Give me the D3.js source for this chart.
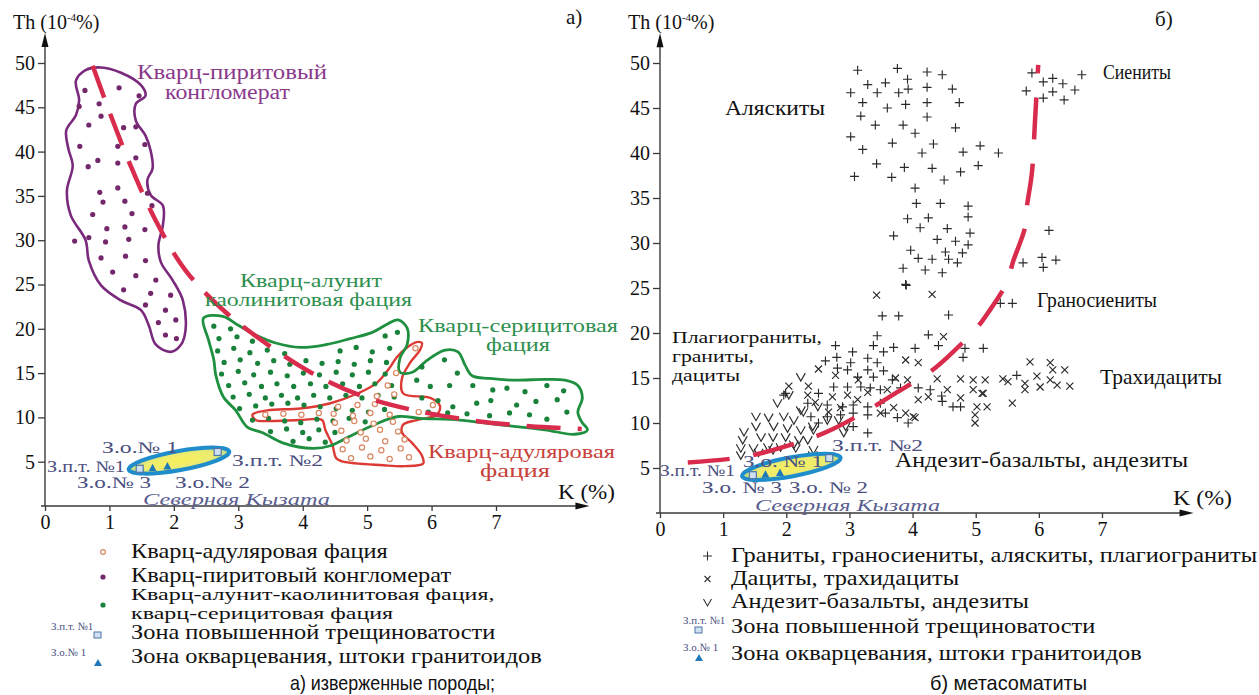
<!DOCTYPE html>
<html><head><meta charset="utf-8">
<script src="https://cdn.jsdelivr.net/npm/d3@7"></script>
<style>
body{margin:0;background:#fff}
svg{display:block}
</style>
</head><body>
<svg id="c" width="1259" height="695" font-family="'Liberation Serif','DejaVu Serif','Times New Roman',serif"></svg>
<script>
// ---------- DATA ----------
const kTicks = [0,1,2,3,4,5,6,7];
const thTicks = [5,10,15,20,25,30,35,40,45,50];

// Panel a) region outlines [K, Th]
const pyriteOutline = [[0.48,48.0],[0.63,49.2],[0.87,49.5],[1.18,48.9],[1.49,47.5],[1.56,46.3],[1.41,45.4],[1.41,43.5],[1.56,41.8],[1.64,40.1],[1.67,38.1],[1.59,36.8],[1.64,35.1],[1.83,33.9],[1.83,31.7],[1.76,29.4],[1.80,27.5],[1.98,25.5],[2.14,23.2],[2.18,19.8],[2.11,18.2],[1.95,17.4],[1.72,18.2],[1.61,20.4],[1.49,22.1],[1.18,23.2],[0.87,24.9],[0.68,27.7],[0.63,30.0],[0.40,32.8],[0.34,35.6],[0.43,38.4],[0.36,40.4],[0.33,42.4],[0.48,44.1],[0.53,45.8]];
const alunitOutline = [[2.46,21.2],[2.76,21.4],[3.00,20.4],[3.27,19.3],[3.58,18.4],[3.96,17.9],[4.35,18.2],[4.74,18.9],[5.08,19.6],[5.33,20.6],[5.48,21.0],[5.62,20.1],[5.62,18.2],[5.51,16.7],[5.51,15.1],[5.70,15.1],[5.94,16.5],[6.21,17.6],[6.41,17.4],[6.52,15.9],[6.63,14.7],[6.90,14.4],[7.29,14.2],[7.76,14.3],[8.07,14.2],[8.27,13.6],[8.34,12.2],[8.27,10.6],[8.33,9.5],[8.42,8.6],[8.22,8.1],[7.76,8.6],[7.14,9.1],[6.44,9.7],[5.82,9.9],[5.48,10.1],[5.12,9.2],[4.74,7.9],[4.43,6.8],[4.16,6.5],[3.70,7.1],[3.37,8.3],[3.14,8.9],[2.96,10.8],[2.77,12.3],[2.65,14.8],[2.62,16.5],[2.54,18.7]];
const adularOutline = [[3.22,10.3],[3.45,10.8],[3.96,11.0],[4.43,11.6],[4.85,12.7],[5.15,13.9],[5.36,15.7],[5.46,16.8],[5.62,17.9],[5.77,18.5],[5.85,18.4],[5.82,17.6],[5.67,16.2],[5.54,14.4],[5.56,12.7],[5.98,12.2],[6.13,11.3],[6.08,10.3],[5.77,9.7],[5.56,9.2],[5.54,8.3],[5.70,7.1],[5.85,5.7],[5.87,4.8],[5.59,4.5],[5.25,4.6],[4.63,5.0],[4.52,5.4],[4.46,6.9],[4.35,8.6],[4.30,9.7],[3.96,9.7],[3.50,9.6],[3.27,9.7]];

// Panel a) sample points [K, Th]
const pyriteDots = [[0.62,46.9],[1.15,47.2],[1.46,46.3],[0.53,45.1],[0.84,45.4],[0.87,44.0],[0.68,43.0],[1.22,42.7],[1.41,42.8],[0.54,40.6],[1.13,40.6],[1.55,40.8],[0.67,38.3],[0.82,39.0],[1.13,38.7],[1.41,39.3],[0.85,35.4],[1.13,35.9],[1.59,35.3],[0.90,34.3],[1.24,34.4],[1.66,33.9],[0.74,32.9],[1.35,33.0],[0.96,31.3],[1.24,31.5],[1.55,31.2],[0.46,29.9],[0.68,30.3],[0.94,29.8],[1.30,30.1],[0.87,28.0],[1.25,28.2],[1.56,27.7],[1.05,26.4],[1.41,26.0],[1.72,25.5],[1.22,24.4],[1.64,24.0],[1.95,23.8],[1.56,22.7],[1.87,22.1],[1.76,20.7],[2.03,21.0],[1.87,19.3],[2.04,18.9]];
const alunitDots = [[2.62,20.3],[2.88,20.0],[2.70,18.9],[2.98,19.1],[3.22,18.6],[5.28,19.2],[5.47,19.6],[2.68,17.5],[2.93,17.8],[3.18,17.3],[3.45,17.6],[3.72,17.2],[4.58,17.5],[4.83,17.9],[5.08,17.4],[5.35,17.8],[2.78,16.2],[3.03,16.5],[3.30,16.1],[3.55,16.4],[3.80,16.0],[4.05,16.4],[4.30,16.1],[4.55,16.3],[4.80,16.0],[5.05,16.4],[5.30,16.2],[2.74,14.9],[3.00,15.2],[3.24,14.8],[3.50,15.1],[3.76,14.7],[4.01,15.0],[4.26,14.8],[4.52,15.1],[4.77,14.8],[5.02,15.1],[5.28,14.9],[2.85,13.6],[3.10,13.9],[3.36,13.5],[3.60,13.8],[3.86,13.5],[4.12,13.8],[4.36,13.5],[4.62,13.8],[4.88,13.5],[5.12,13.8],[5.38,13.6],[2.92,12.3],[3.17,12.6],[3.42,12.2],[3.67,12.5],[3.92,12.2],[4.17,12.5],[4.42,12.2],[4.67,12.5],[4.92,12.2],[5.17,12.5],[5.42,12.3],[3.02,11.0],[3.27,11.3],[3.52,11.5],[3.77,11.6],[4.02,11.4],[4.27,11.2],[4.52,11.0],[4.77,10.8],[5.02,10.6],[5.27,10.9],[3.22,9.7],[3.47,9.9],[3.72,9.6],[3.97,9.4],[4.22,9.8],[4.47,9.6],[4.72,9.9],[4.97,9.5],[3.50,8.4],[3.75,8.7],[4.00,8.3],[4.25,8.6],[4.50,8.3],[3.85,7.3],[4.10,7.6],[4.35,7.2],
  [5.85,15.7],[6.20,16.5],[6.40,15.0],[5.77,14.2],[5.98,13.5],[6.28,13.6],[6.64,13.6],[6.95,13.1],[7.17,13.3],[7.45,12.9],[7.79,13.6],[8.05,13.0],[5.85,12.2],[6.10,11.9],[6.33,11.2],[6.70,11.6],[6.92,11.9],[7.32,11.4],[7.62,11.8],[7.95,12.0],[7.21,10.5],[7.52,10.3],[7.79,9.8],[8.10,10.6],[6.55,10.4],[6.90,10.2],[5.95,10.6],[6.25,10.5]];
const adularDots = [[3.42,10.3],[3.70,10.4],[3.98,10.3],[4.25,10.5],[4.55,11.2],[4.85,11.4],[5.12,11.5],[4.48,10.4],[4.78,10.2],[5.05,10.5],[5.35,10.3],[5.80,10.6],[6.02,11.4],[4.50,9.4],[4.80,9.6],[5.10,9.3],[5.40,9.5],[4.60,8.5],[4.90,8.3],[5.20,8.6],[5.48,8.4],[4.68,7.4],[4.98,7.6],[5.28,7.3],[5.58,7.5],[4.62,6.4],[4.92,6.6],[5.22,6.3],[5.52,6.5],[4.75,5.4],[5.05,5.6],[5.35,5.3],[5.65,5.5],[5.15,12.4],[5.42,12.6],[5.32,13.6],[5.45,15.0],[5.75,17.8]];

// Boundary dashed curves [K, Th]
const boundaryA = [[0.74,49.7],[1.02,44.1],[1.33,38.4],[1.72,32.2],[2.18,26.6],[2.80,21.9],[3.42,18.4],[4.12,15.1],[4.89,12.5],[5.67,10.9],[6.59,9.7],[7.52,9.0],[8.33,8.7]];
const boundaryB = [[0.44,5.6],[1.20,6.1],[1.63,6.7],[2.35,8.2],[2.73,9.3],[3.36,11.7],[3.68,13.1],[4.28,15.7],[4.55,17.3],[5.02,20.6],[5.20,22.3],[5.50,25.7],[5.59,27.9],[5.78,31.7],[5.81,34.0],[5.89,37.8],[5.94,43.7],[5.99,49.8]];

// Zones (both panels) [K, Th]
const zoneEnds = [[1.30,4.1],[2.86,6.15]];
const fractureZones = [[1.47,4.2],[2.68,6.1]];
const silicaZones = [[1.67,4.25],[1.90,4.45]];

// Panel b) points [K, Th]
const granitePts = [[3.13,49.2],[3.76,49.4],[4.23,49.0],[4.47,48.7],[3.92,48.2],[3.29,47.6],[3.57,47.8],[3.02,46.7],[3.44,46.7],[3.78,46.7],[3.93,47.1],[4.23,47.3],[4.63,47.1],[3.21,45.6],[3.60,45.0],[3.89,45.4],[4.23,45.6],[4.74,45.6],[3.18,44.1],[3.41,43.1],[3.85,43.1],[4.23,44.0],[4.04,42.2],[4.68,42.8],[3.02,41.8],[3.21,40.4],[3.68,41.1],[4.33,41.0],[4.15,40.0],[4.80,40.1],[5.07,40.8],[5.36,40.0],[3.43,38.8],[3.87,38.4],[4.31,38.3],[4.76,37.9],[5.04,38.6],[3.08,37.4],[3.67,37.3],[4.50,37.0],[4.04,36.1],[4.06,34.4],[4.44,34.4],[4.88,34.1],[4.88,32.9],[3.92,32.7],[4.25,32.8],[4.12,31.7],[4.55,31.6],[4.91,31.1],[3.70,30.8],[4.39,30.4],[4.68,30.2],[3.97,29.2],[4.52,29.0],[4.79,28.9],[4.88,29.8],[4.09,28.3],[4.31,28.2],[4.57,28.2],[4.71,27.8],[3.85,27.2],[4.20,27.0],[4.47,26.7],[3.89,25.4],[3.52,21.9],[3.78,21.9],[4.57,22.0],[3.44,19.7],[4.25,19.8],
  [5.89,48.9],[6.07,47.9],[6.22,48.3],[6.38,47.7],[6.57,47.0],[6.68,48.7],[5.80,46.9],[6.07,46.1],[6.22,46.8],[6.40,45.9],
  [6.16,31.4],[5.75,27.8],[6.05,28.4],[6.07,27.3],[6.27,28.1],[5.39,23.3],[5.58,23.3],
  [3.90,25.3],[2.78,18.6],[3.05,17.9],[3.38,18.6],[3.54,17.9],[3.70,18.4],[4.04,18.3],[4.41,18.6],[4.83,18.3],[5.12,18.3],[4.80,17.3],[2.62,16.9],[2.80,17.3],[3.02,16.7],[3.29,17.2],[3.44,16.7],[2.81,16.1],[2.97,15.9],[3.13,15.1],[3.29,15.9],[3.38,15.1],[3.54,15.8],[3.68,14.8],[1.99,13.3],[2.51,13.3],[2.75,14.0],[2.97,14.0],[3.18,14.0],[3.33,13.9],[3.49,13.7],[3.81,13.9],[4.09,13.9],[4.28,13.7],[4.47,12.4],[4.64,11.8],[4.76,11.8],[2.34,12.2],[2.65,12.0],[2.89,11.8],[3.06,12.0],[3.29,11.8],[3.49,12.2],[2.39,10.7],[2.65,10.7],[2.86,10.9],[3.06,11.1],[3.29,10.9],[3.57,11.1],[3.76,10.6],[3.93,10.0],[2.51,10.0],[3.06,9.6],[3.29,8.9],[1.96,13.1],[5.65,15.3],[4.46,13.0]];
const dacitePts = [[3.43,24.2],[4.31,24.3],[4.49,19.6],[2.04,14.1],[2.35,14.1],[2.51,16.0],[2.78,15.3],[3.14,14.8],[3.89,17.0],[4.09,16.7],[3.73,15.0],[3.92,14.8],[4.39,14.9],[4.55,13.7],[4.76,14.9],[4.96,14.8],[5.15,14.8],[5.43,14.9],[5.86,16.8],[6.18,16.7],[6.22,15.9],[6.41,15.9],[5.97,15.2],[6.18,14.8],[6.02,14.0],[6.29,14.2],[6.49,14.1],[5.51,14.6],[5.78,14.4],[5.78,13.7],[4.96,13.7],[5.12,13.3],[5.58,12.2],[5.02,11.8],[5.18,11.8],[4.99,10.9],[4.99,10.0],[4.09,12.6],[4.25,12.9],[2.97,13.1],[2.73,12.9],[2.46,12.3],[3.13,12.6],[3.49,11.1],[3.70,11.7],[3.89,11.1],[4.01,10.7],[2.67,11.2],[2.86,11.7],[2.34,13.1],[3.60,13.7],[3.29,13.4],[4.04,10.6],[4.76,12.8],[5.10,13.3]];
const andesitePts = [[2.23,15.1],[1.86,12.2],[2.04,13.1],[2.27,11.2],[1.52,10.7],[1.72,10.6],[1.96,10.7],[2.12,10.3],[2.42,9.6],[2.65,10.3],[2.83,10.3],[1.33,9.0],[1.52,9.6],[1.80,9.6],[2.02,9.4],[2.23,9.2],[2.43,9.2],[2.91,8.9],[1.31,8.1],[1.60,8.4],[1.79,8.4],[1.99,8.4],[2.20,8.1],[2.94,9.6],[1.28,7.2],[1.48,7.2],[1.71,7.3],[1.91,7.3],[2.12,7.6],[1.28,6.4],[1.56,6.7],[2.15,7.2],[2.43,7.0],[2.51,5.7],[2.34,8.1],[1.79,7.0],[2.23,11.4],[2.50,11.8],[2.26,5.9],[2.42,6.4]];

// ---------- DRAWING ----------
const SERIF = "'Liberation Serif','DejaVu Serif','Times New Roman',serif";
const svg = d3.select('#c');
svg.append('rect').attr('width',1259).attr('height',695).attr('fill','#fff');

const A = {x:d3.scaleLinear().domain([0,7]).range([45,496]), y:d3.scaleLinear().domain([0,50]).range([506,63]), kEnd:8.45, thEnd:53.4};
const B = {x:d3.scaleLinear().domain([0,7]).range([660,1102]), y:d3.scaleLinear().domain([0,50]).range([513,63]), kEnd:8.45, thEnd:53.3};

const axisCol = '#3a3a3a';
function drawAxes(P){
  const g = svg.append('g');
  const gx = g.append('g').attr('transform',`translate(0,${P.y(0)})`)
    .call(d3.axisBottom(P.x).tickValues(kTicks).tickSize(5).tickPadding(4).tickFormat(d3.format('d')));
  const gy = g.append('g').attr('transform',`translate(${P.x(0)},0)`)
    .call(d3.axisLeft(P.y).tickValues(thTicks).tickSize(7).tickPadding(3).tickFormat(d3.format('d')));
  [gx,gy].forEach(a=>{
    a.attr('font-family',SERIF).attr('font-size',20);
    a.select('.domain').remove();
    a.selectAll('line').attr('stroke',axisCol).attr('stroke-width',1.3);
    a.selectAll('text').attr('fill','#111').attr('font-family',SERIF).attr('font-size',20);
  });
  const x0=P.x(0), y0=P.y(0), xe=P.x(P.kEnd), ye=P.y(P.thEnd);
  g.append('line').attr('x1',x0-4).attr('x2',xe-8).attr('y1',y0).attr('y2',y0).attr('stroke',axisCol).attr('stroke-width',1.4);
  g.append('line').attr('x1',x0).attr('x2',x0).attr('y1',y0).attr('y2',ye+8).attr('stroke',axisCol).attr('stroke-width',1.4);
  g.append('path').attr('d',`M${xe},${y0}L${xe-14},${y0-3.5}L${xe-14},${y0+3.5}Z`).attr('fill','#111');
  g.append('path').attr('d',`M${x0},${ye}L${x0-3.5},${ye+14}L${x0+3.5},${ye+14}Z`).attr('fill','#111');
}
drawAxes(A); drawAxes(B);

function outline(P, pts, col, w){
  const line = d3.line().x(d=>P.x(d[0])).y(d=>P.y(d[1])).curve(d3.curveCatmullRomClosed.alpha(0.5));
  svg.append('path').attr('d',line(pts)).attr('fill','none').attr('stroke',col).attr('stroke-width',w).attr('stroke-linejoin','round');
}
function dots(P, pts, r, fill, stroke){
  svg.append('g').selectAll('circle').data(pts).join('circle')
    .attr('cx',d=>P.x(d[0])).attr('cy',d=>P.y(d[1])).attr('r',r)
    .attr('fill',fill).attr('stroke',stroke||'none').attr('stroke-width',1.2);
}

outline(A, pyriteOutline, '#7a2a7c', 2.6);
dots(A, pyriteDots, 2.6, '#74286c');
outline(A, adularOutline, '#dc3a34', 2.4);
outline(A, alunitOutline, '#1e9040', 2.8);
dots(A, alunitDots, 2.6, '#18813a');
dots(A, adularDots, 2.6, '#fff', '#d98760');

function dashed(P, pts, dash){
  const line = d3.line().x(d=>P.x(d[0])).y(d=>P.y(d[1])).curve(d3.curveCatmullRom.alpha(0.5));
  svg.append('path').attr('d',line(pts)).attr('fill','none').attr('stroke','#d92c4d').attr('stroke-width',4.5).attr('stroke-dasharray',dash);
}
dashed(A, boundaryA, '34,17');

const sym = svg.append('g').attr('stroke','#2a2a2a').attr('stroke-width',1.15).attr('fill','none');
sym.selectAll('.p').data(granitePts).join('path').attr('class','p')
  .attr('d',d=>{const x=B.x(d[0]),y=B.y(d[1]);return `M${x-4.5},${y}H${x+4.5}M${x},${y-4.5}V${y+4.5}`;});
sym.selectAll('.x').data(dacitePts).join('path').attr('class','x')
  .attr('d',d=>{const x=B.x(d[0]),y=B.y(d[1]);return `M${x-3.5},${y-3.5}L${x+3.5},${y+3.5}M${x-3.5},${y+3.5}L${x+3.5},${y-3.5}`;});
sym.selectAll('.v').data(andesitePts).join('path').attr('class','v')
  .attr('d',d=>{const x=B.x(d[0]),y=B.y(d[1]);return `M${x-4.5},${y-4}L${x},${y+4}L${x+4.5},${y-4}`;});
dashed(B, boundaryB, '42,24');

const defs = svg.append('defs');
const grad = defs.append('radialGradient').attr('id','zg');
grad.append('stop').attr('offset','0%').attr('stop-color','#f7f05a');
grad.append('stop').attr('offset','70%').attr('stop-color','#eceb72');
grad.append('stop').attr('offset','100%').attr('stop-color','#b9d98a');
function zone(P){
  const x1=P.x(zoneEnds[0][0]), y1=P.y(zoneEnds[0][1]), x2=P.x(zoneEnds[1][0]), y2=P.y(zoneEnds[1][1]);
  const cx=(x1+x2)/2, cy=(y1+y2)/2, rx=Math.hypot(x2-x1,y2-y1)/2, ang=Math.atan2(y2-y1,x2-x1)*180/Math.PI;
  svg.append('ellipse').attr('cx',0).attr('cy',0).attr('rx',rx).attr('ry',9.5)
    .attr('transform',`translate(${cx},${cy}) rotate(${ang})`)
    .attr('fill','url(#zg)').attr('stroke','#1f8ccc').attr('stroke-width',4);
  svg.append('g').selectAll('rect').data(fractureZones).join('rect')
    .attr('x',d=>P.x(d[0])-3.5).attr('y',d=>P.y(d[1])-3.5).attr('width',7).attr('height',7)
    .attr('fill','#cfe0f2').attr('stroke','#4f74a8').attr('stroke-width',1.2);
  svg.append('g').selectAll('path').data(silicaZones).join('path')
    .attr('d',d=>{const x=P.x(d[0]),y=P.y(d[1]);return `M${x},${y-4.5}L${x+4},${y+3}L${x-4},${y+3}Z`;})
    .attr('fill','#1f78b8');
}
zone(A); zone(B);

// ---------- TEXT ----------
function txt(x,y,s,opt={}){
  const t = svg.append('text').attr('x',x).attr('y',y).text(s)
    .attr('font-size',opt.size||20).attr('fill',opt.fill||'#111')
    .attr('font-family',opt.family||SERIF);
  if(opt.italic) t.attr('font-style','italic');
  if(opt.w){ t.attr('textLength',opt.w).attr('lengthAdjust','spacingAndGlyphs'); }
  if(opt.stretch){ const L=t.node().getComputedTextLength(); t.attr('textLength',L*opt.stretch).attr('lengthAdjust','spacingAndGlyphs'); }
  return t;
}
function thLabel(x,y){
  const t = svg.append('text').attr('x',x).attr('y',y).attr('font-size',20).attr('fill','#111').attr('font-family',SERIF);
  t.append('tspan').text('Th (10');
  t.append('tspan').attr('dy',-8).attr('font-size',11).text('-4');
  t.append('tspan').attr('dy',8).text('%)');
}
thLabel(13,29); thLabel(628,29);
txt(558,499,'K (%)',{w:57}); txt(1173,505,'K (%)',{w:59});
txt(566,24,'а)',{size:21}); txt(1155,26,'б)',{size:21});

const purple='#8a3a8c', green='#2e8f4e', red='#c8413a', slate='#4b4f80';
txt(137,79,'Кварц-пиритовый',{size:20,fill:purple,w:190});
txt(165,99,'конгломерат',{size:20,fill:purple,w:125});
txt(240,287,'Кварц-алунит',{size:18,fill:green,w:142});
txt(205,306,'каолинитовая фация',{size:18,fill:green,w:207});
txt(418,332,'Кварц-серицитовая',{size:18,fill:green,w:200});
txt(486,351,'фация',{size:18,fill:green,w:64});
txt(428,458,'Кварц-адуляровая',{size:18,fill:red,w:187});
txt(480,477,'фация',{size:18,fill:red,w:70});

txt(102,453,'З.о.№ 1',{size:16,fill:slate,w:76});
txt(47,472,'З.п.т. №1',{size:16,fill:slate,w:78});
txt(77,488,'З.о.№ 3',{size:16,fill:slate,w:74});
txt(175,488,'З.о.№ 2',{size:16,fill:slate,w:75});
txt(232,466,'З.п.т. №2',{size:16,fill:slate,w:91});
txt(143,505,'Северная Кызата',{size:17,fill:'#5a5e90',italic:true,w:187});

txt(660,476,'З.п.т. №1',{size:16,fill:slate,w:75});
txt(743,467,'З.о. № 1',{size:16,fill:slate,w:80});
txt(702,493,'З.о. № 3',{size:16,fill:slate,w:80});
txt(789,493,'З.о. № 2',{size:16,fill:slate,w:79});
txt(832,451,'З.п.т. №2',{size:16,fill:slate,w:91});
txt(755,511,'Северная Кызата',{size:17,fill:'#5a5e90',italic:true,w:185});

txt(725,115,'Аляскиты',{size:21,w:100});
txt(1103,79,'Сиениты',{size:21,w:68});
txt(1037,307,'Граносиениты',{size:21,w:120});
txt(672,343,'Плагиограниты,',{size:17,w:150});
txt(672,362,'граниты,',{size:17,w:82});
txt(672,381,'дациты',{size:17,w:68});
txt(1100,384,'Трахидациты',{size:21,w:122});
txt(895,467,'Андезит-базальты, андезиты',{size:21,w:293});

// ---------- LEGENDS ----------
const LS = 1.16;
const lg = svg.append('g');
lg.append('circle').attr('cx',103).attr('cy',552).attr('r',2.4).attr('fill','#fff').attr('stroke','#d98760').attr('stroke-width',1.2);
txt(131,558,'Кварц-адуляровая фация',{size:21,stretch:LS});
lg.append('circle').attr('cx',103).attr('cy',577).attr('r',2.6).attr('fill','#74286c');
txt(131,582,'Кварц-пиритовый конгломерат',{size:21,stretch:LS});
lg.append('circle').attr('cx',103).attr('cy',605).attr('r',2.6).attr('fill','#18813a');
txt(131,600,'Кварц-алунит-каолинитовая фация,',{size:16,stretch:1.5});
txt(131,619,'кварц-серицитовая фация',{size:16,stretch:1.5});
txt(51,630,'З.п.т. №1',{size:11,fill:slate});
lg.append('rect').attr('x',94).attr('y',632).attr('width',7).attr('height',6).attr('fill','#cfe0f2').attr('stroke','#4f74a8');
txt(131,639,'Зона повышенной трещиноватости',{size:21,stretch:LS});
txt(51,656,'З.о.№ 1',{size:11,fill:slate});
lg.append('path').attr('d','M98,659L102,666L94,666Z').attr('fill','#1f78b8');
txt(131,663,'Зона окварцевания, штоки гранитоидов',{size:21,stretch:LS});

lg.append('path').attr('d','M703,556H712M707.5,551.5V560.5').attr('stroke','#333').attr('stroke-width',1.1);
txt(731,562,'Граниты, граносиениты, аляскиты, плагиограниты',{size:21,stretch:LS});
lg.append('path').attr('d','M704.5,576L710.5,582M704.5,582L710.5,576').attr('stroke','#333').attr('stroke-width',1.1);
txt(731,585,'Дациты, трахидациты',{size:21,stretch:LS});
lg.append('path').attr('d','M703.5,599L707.5,606L711.5,599').attr('stroke','#333').attr('stroke-width',1.1).attr('fill','none');
txt(731,608,'Андезит-базальты, андезиты',{size:21,stretch:LS});
txt(683,624,'З.п.т. №1',{size:11,fill:slate});
lg.append('rect').attr('x',695).attr('y',627).attr('width',7).attr('height',6).attr('fill','#cfe0f2').attr('stroke','#4f74a8');
txt(731,633,'Зона повышенной трещиноватости',{size:21,stretch:LS});
txt(683,651,'З.о.№ 1',{size:11,fill:slate});
lg.append('path').attr('d','M699,654L703,661L695,661Z').attr('fill','#1f78b8');
txt(731,660,'Зона окварцевания, штоки гранитоидов',{size:21,stretch:LS});

const capFont = "'Liberation Sans Narrow','Liberation Sans','DejaVu Sans',sans-serif";
txt(290,690,'а) изверженные породы;',{size:21,family:capFont,w:205});
txt(930,690,'б) метасоматиты',{size:21,family:capFont,w:157});
</script>
</body></html>
